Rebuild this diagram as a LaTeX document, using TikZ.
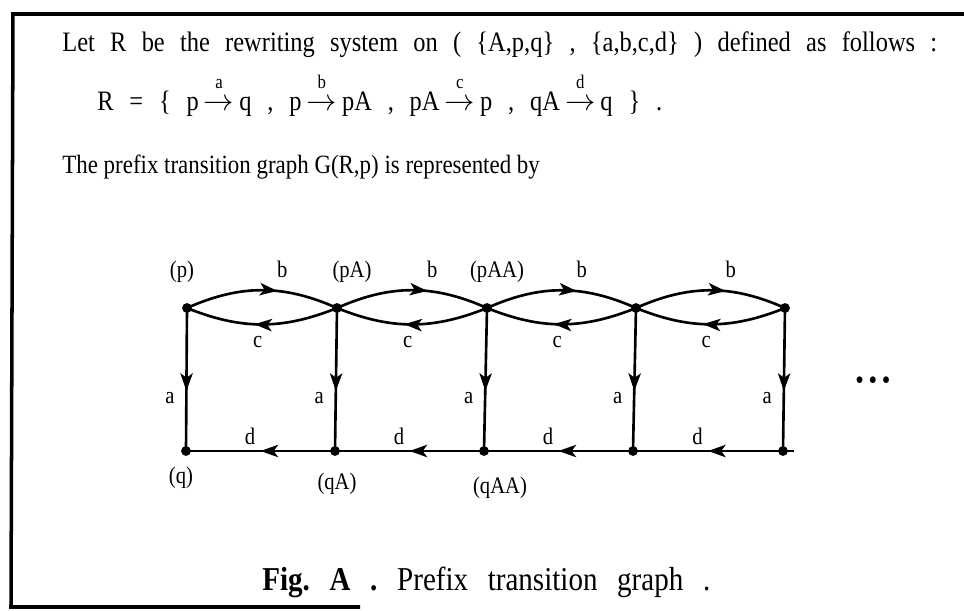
\documentclass[tikz,border=0pt]{standalone}
\usepackage{fontspec}
\setmainfont{Liberation Serif}[FakeStretch=0.87]
\usetikzlibrary{arrows.meta,decorations.markings}

\newcommand{\rarrow}[1]{$\,\stackrel{\raisebox{4pt}{\mbox{\fontsize{11}{12}\selectfont #1}}}{\rightarrow}\,$}

\tikzset{
  edge/.style={line width=1.5pt},
  midarrow/.style={postaction={decorate},decoration={markings,
      mark=at position #1 with {\arrow{Stealth[length=10pt,width=7pt,inset=2.5pt]}}}},
  lab/.style={font=\fontsize{13.5}{15}\selectfont, inner sep=1pt},
  body/.style={anchor=base west, inner sep=0pt, font=\fontsize{16}{19}\selectfont},
}

\begin{document}
\frenchspacing
\begin{tikzpicture}[x=0.02cm, y=0.02cm]
  \useasboundingbox (0,0) rectangle (964,610);
  % frame, open on the right
  \draw[line width=2pt] (964,596) -- (13,596) -- (11,3) -- (360,3);

  % text above the graph
  \node[body] (line1) at (62,559)
    {\makebox[17.5cm][s]{Let R be the rewriting system on ( \{A,p,q\} , \{a,b,c,d\} ) defined as follows :}};
  \node[body] (line2) at (97,500)
    {\makebox[11.3cm][s]{R = \{ p\rarrow{a}q , p\rarrow{b}pA , pA\rarrow{c}p , qA\rarrow{d}q \} .}};
  \node[body, font=\fontsize{15}{18}\selectfont] (line3) at (62,437)
    {The prefix transition graph G(R,p) is represented by};

  % vertices
  \foreach \n/\x in {0/187,1/337,2/487,3/636,4/785}
    \coordinate (t\n) at (\x,302);
  \foreach \n/\x in {0/186,1/335,2/484,3/633,4/783}
    \coordinate (u\n) at (\x,159);
  \coordinate (tail) at (794,159);

  % edges
  \foreach \i/\j in {0/1,1/2,2/3,3/4} {
    \draw[edge, midarrow=0.6] (t\i) to[bend left=24]
      node[lab, pos=0.64, above=6pt] {b} (t\j);
    \draw[edge, midarrow=0.55] (t\j) to[bend left=22]
      node[lab, pos=0.53, below=5pt] {c} (t\i);
    \draw[edge, midarrow=0.5] (u\j) -- node[lab, pos=0.57, above=2pt] {d} (u\i);
  }
  \foreach \i in {0,...,4}
    \draw[edge, midarrow=0.58] (t\i) -- node[lab, pos=0.63, left=5pt] {a} (u\i);
  \draw[edge] (tail) -- (u4);

  \foreach \n in {0,...,4} {
    \fill (t\n) circle (2.8pt);
    \fill (u\n) circle (2.8pt);
  }

  % vertex names
  \node[lab] (np)   at (182,338) {(p)};
  \node[lab] (npA)  at (352,338) {(pA)};
  \node[lab] (npAA) at (497,338) {(pAA)};
  \node[lab] (nq)   at (181,132) {(q)};
  \node[lab] (nqA)  at (337,126) {(qA)};
  \node[lab] (nqAA) at (500,122) {(qAA)};
  \node[font=\fontsize{16}{18}\selectfont] (more) at (873,227)
    {\textbullet\,\textbullet\,\textbullet};

  % caption
  \node[body] (caption) at (262,20)
    {\makebox[8.96cm][s]{\fontsize{19}{22}\selectfont\textbf{Fig. A .} Prefix transition graph .}};
\end{tikzpicture}
\end{document}
